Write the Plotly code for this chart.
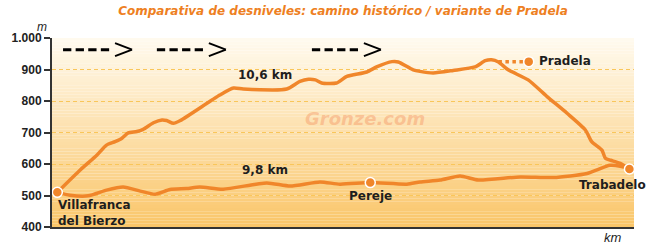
import plotly.graph_objects as go

# ---- data (distance normalised 0..10 along the profile, elevation in m) ----
var_x = [0.00, 0.40, 0.69, 0.86, 1.01, 1.13, 1.24, 1.39, 1.50, 1.68, 1.83, 1.91, 2.03, 2.15,
         2.84, 3.08, 3.25, 4.01, 4.24, 4.39, 4.51, 4.62, 4.88, 5.06, 5.41, 5.58, 5.85, 5.96,
         6.22, 6.34, 6.57, 6.92, 7.30, 7.48, 7.59, 7.71, 7.88, 8.23, 8.56, 8.91, 9.23, 9.34,
         9.52, 9.58, 9.67, 9.84, 10.00]
var_y = [510, 581, 628, 660, 671, 682, 699, 703, 710, 731, 740, 738, 729, 738,
         819, 841, 838, 838, 862, 869, 867, 857, 857, 878, 892, 908, 925, 924,
         899, 894, 889, 897, 908, 928, 931, 924, 899, 867, 814, 761, 708, 671,
         644, 618, 612, 602, 584]

hist_x = [0.00, 0.22, 0.54, 0.86, 1.15, 1.45, 1.71, 1.97, 2.26, 2.49, 2.90, 3.66, 4.07,
          4.59, 4.94, 5.47, 6.11, 6.34, 6.69, 7.04, 7.36, 8.09, 8.67, 9.26, 9.66, 9.84, 10.00]
hist_y = [510, 501, 499, 517, 527, 514, 504, 519, 522, 527, 520, 540, 530,
          543, 536, 541, 536, 543, 549, 562, 549, 559, 557, 570, 596, 593, 584]

pradela_x = [7.71, 8.24]
pradela_y = [925, 925]

towns = ["Villafranca<br>del Bierzo", "Pereje", "Pradela", "Trabadelo"]
town_x = [0.00, 5.47, 8.24, 10.00]
town_y = [510, 541, 925, 584]

dist_labels = ["10,6 km", "9,8 km"]

y_ticks = [400, 500, 600, 700, 800, 900, 1000]
y_ticktext = ["400", "500", "600", "700", "800", "900", "1.000"]

title = "Comparativa de desniveles: camino histórico / variante de Pradela"

ORANGE = "#F0862A"
DARK = "#1E1E1E"
FONT = "DejaVu Sans"

fig = go.Figure()

fig.add_trace(go.Scatter(x=var_x, y=var_y, mode="lines",
                         line=dict(color=ORANGE, width=3.5, shape="spline", smoothing=0.6),
                         hoverinfo="skip", showlegend=False))
fig.add_trace(go.Scatter(x=hist_x, y=hist_y, mode="lines",
                         line=dict(color=ORANGE, width=3.5, shape="spline", smoothing=0.6),
                         hoverinfo="skip", showlegend=False))
fig.add_trace(go.Scatter(x=pradela_x, y=pradela_y, mode="lines",
                         line=dict(color=ORANGE, width=3.5, dash="dot"),
                         hoverinfo="skip", showlegend=False))
fig.add_trace(go.Scatter(x=town_x, y=town_y, mode="markers",
                         marker=dict(color=ORANGE, size=10, line=dict(color="white", width=1.5)),
                         hoverinfo="skip", showlegend=False, cliponaxis=False))

# gradient background
shapes = []
n = 60
top = (255, 250, 238)
bot = (250, 198, 106)
for i in range(n):
    t = i / (n - 1)
    c = tuple(int(round(bot[k] + (top[k] - bot[k]) * t)) for k in range(3))
    y0 = 400 + 600 * i / n
    y1 = 400 + 600 * (i + 1) / n
    shapes.append(dict(type="rect", xref="paper", yref="y", x0=0, x1=1, y0=y0, y1=y1,
                       fillcolor="rgb(%d,%d,%d)" % c, line=dict(width=0), layer="below"))

# direction arrows (dashed shaft + ">" head)
arrow_x = [0.10, 1.74, 4.45]
for ax in arrow_x:
    shapes.append(dict(type="line", xref="x", yref="y", xsizemode="pixel", xanchor=ax,
                       x0=0, x1=47, y0=963, y1=963,
                       line=dict(color="black", width=3, dash="8.3px,4.3px")))
    shapes.append(dict(type="line", xref="x", yref="y", xsizemode="pixel", ysizemode="pixel",
                       xanchor=ax, yanchor=963, x0=52, x1=69, y0=6.5, y1=0,
                       line=dict(color="black", width=2)))
    shapes.append(dict(type="line", xref="x", yref="y", xsizemode="pixel", ysizemode="pixel",
                       xanchor=ax, yanchor=963, x0=52, x1=69, y0=-6.5, y1=0,
                       line=dict(color="black", width=2)))

lab = dict(family=FONT, size=12, color=DARK, weight="bold")
annotations = [
    dict(x=5.38, y=746, text="<i>Gronze.com</i>", showarrow=False,
         font=dict(family=FONT, size=18, color="rgba(244,150,100,0.45)", weight="bold")),
    dict(x=3.63, y=883, text=dist_labels[0], showarrow=False, font=lab),
    dict(x=3.63, y=581, text=dist_labels[1], showarrow=False, font=lab),
    dict(x=-0.03, y=446, text=towns[0], showarrow=False, xanchor="left",
         align="left", font=lab),
    dict(x=5.47, y=498, text=towns[1], showarrow=False, font=lab),
    dict(x=8.39, y=928, text=towns[2], showarrow=False, xanchor="left", font=lab),
    dict(x=9.70, y=533, text=towns[3], showarrow=False, font=lab),
    dict(x=0, y=1, xref="paper", yref="paper", text="<i>m</i>", showarrow=False,
         xanchor="right", yanchor="bottom", xshift=-3, yshift=2,
         font=dict(family="Liberation Sans", size=12, color=DARK)),
    dict(x=1, y=0, xref="paper", yref="paper", text="<i>km</i>", showarrow=False,
         xanchor="right", yanchor="top", xshift=-10, yshift=-1,
         font=dict(family="Liberation Sans", size=13, color=DARK)),
]

fig.update_layout(
    width=650, height=246,
    margin=dict(l=52, r=16, t=38, b=19),
    paper_bgcolor="white", plot_bgcolor="white",
    title=dict(text="<i>" + title + "</i>", x=0.5, xref="paper", xanchor="center",
               y=1 - 10.5 / 246, yref="container", yanchor="middle",
               font=dict(family=FONT, size=12, color="#EE7F22", weight="bold")),
    shapes=shapes, annotations=annotations,
    xaxis=dict(range=[-0.093, 10.08], showgrid=False, zeroline=False, showticklabels=False,
               ticks="", showline=True, linecolor="#333333", linewidth=2, fixedrange=True),
    yaxis=dict(range=[400, 1000], tickvals=y_ticks, ticktext=y_ticktext,
               showgrid=True, gridcolor="#F9C65A", griddash="4px,3px", gridwidth=1,
               zeroline=False, showline=True, linecolor="#333333", linewidth=2,
               ticks="outside", ticklen=6, tickwidth=2, tickcolor="#333333",
               tickfont=dict(family="Arial, Liberation Sans", size=12, color="#222222",
                             weight="bold"),
               fixedrange=True),
)

fig.write_html("out.html")
